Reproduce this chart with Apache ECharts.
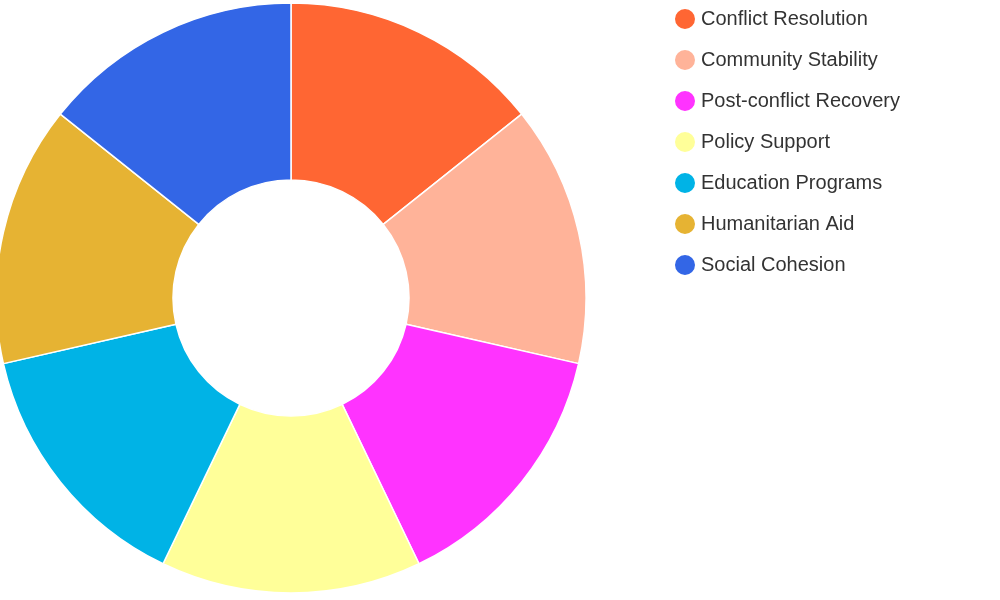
<!DOCTYPE html>
<html><head><meta charset="utf-8">
<script src="https://cdn.jsdelivr.net/npm/echarts@6/dist/echarts.min.js"></script>
<style>html,body{margin:0;padding:0;background:#fff}#c{width:1000px;height:600px}</style>
</head><body><div id="c"></div>
<script>
const categories = ["Conflict Resolution","Community Stability","Post-conflict Recovery","Policy Support","Education Programs","Humanitarian Aid","Social Cohesion"];
const values = [1,1,1,1,1,1,1];
const colors = ["#FF6633","#FFB399","#FF33FF","#FFFF99","#00B3E6","#E6B333","#3366E6"];
const chart = echarts.init(document.getElementById('c'));
chart.setOption({
  animation:false,
  color: colors,
  legend:{orient:'vertical',left:668,top:2,icon:'circle',itemWidth:22,itemHeight:22,itemGap:17,
    textStyle:{fontSize:20,color:'#333',fontFamily:'Liberation Sans, Arial, sans-serif'}},
  series:[{type:'pie',center:[291,298],radius:[118,295],startAngle:90,clockwise:true,
    label:{show:false},labelLine:{show:false},
    itemStyle:{borderColor:'#fff',borderWidth:1.5},
    data:categories.map((n,i)=>({name:n,value:values[i]}))}]
});
</script></body></html>
